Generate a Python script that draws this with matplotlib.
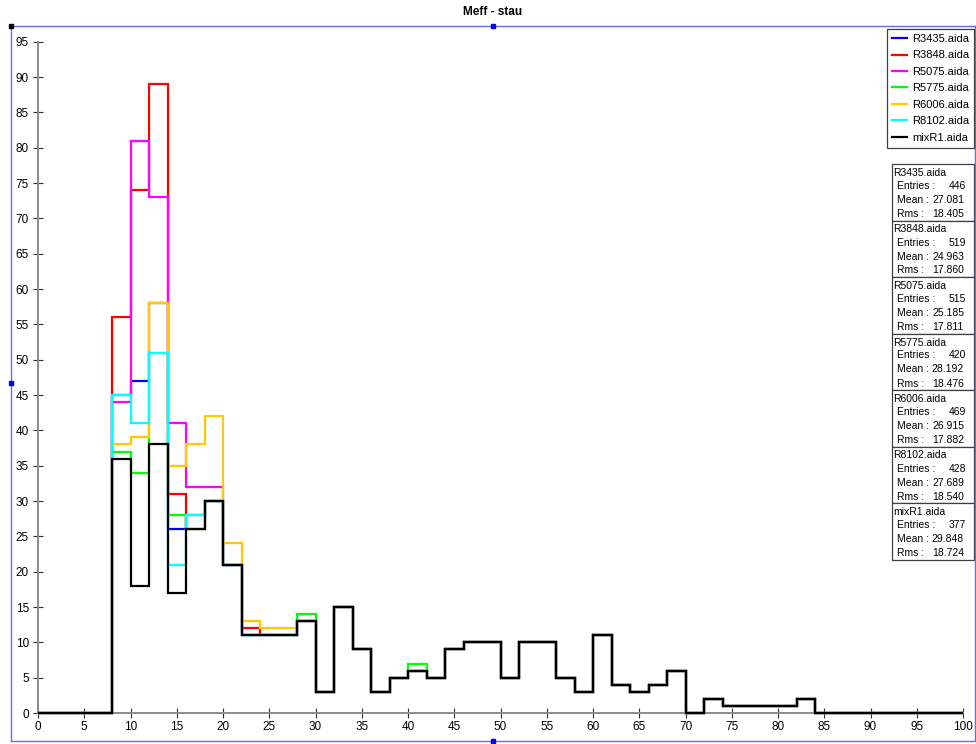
import numpy as np
import matplotlib
matplotlib.use('Agg')
import matplotlib.pyplot as plt
from matplotlib.lines import Line2D
from matplotlib.patches import Rectangle

plt.rcParams['font.family'] = ['Liberation Sans', 'DejaVu Sans']

W, H = 976, 744

# bin edges: 50 bins of width 2 over [0, 100]
edges = np.arange(0, 101, 2)

names = ['R3435.aida', 'R3848.aida', 'R5075.aida', 'R5775.aida',
         'R6006.aida', 'R8102.aida', 'mixR1.aida']
colors = ['#0000ff', '#ff0000', '#ff00ff', '#00ff00', '#ffc800', '#00ffff', '#000000']

# bins 0..30
head_R3435 = [0, 0, 0, 0, 45, 47, 58, 26, 28, 30, 21, 11, 11, 11, 13]
head_R3848 = [0, 0, 0, 0, 56, 74, 89, 31, 26, 30, 21, 12, 11, 11, 13]
head_R5075 = [0, 0, 0, 0, 44, 81, 73, 41, 32, 32, 21, 11, 11, 11, 13]
head_R5775 = [0, 0, 0, 0, 37, 34, 51, 28, 26, 30, 21, 11, 11, 11, 14]
head_R6006 = [0, 0, 0, 0, 38, 39, 58, 35, 38, 42, 24, 13, 12, 12, 13]
head_R8102 = [0, 0, 0, 0, 45, 41, 51, 21, 28, 30, 21, 11, 11, 11, 13]
head_mixR1 = [0, 0, 0, 0, 36, 18, 38, 17, 26, 30, 21, 11, 11, 11, 13]

# bins 30..100
tail = [3, 15, 9, 3, 5, 6, 5, 9, 10, 10, 5, 10, 10, 5, 3, 11, 4, 3, 4, 6,
        0, 2, 1, 1, 1, 1, 2, 0, 0, 0, 0, 0, 0, 0, 0]
tail_R5775 = [3, 15, 9, 3, 5, 7, 5, 9, 10, 10, 5, 10, 10, 5, 3, 11, 4, 3, 4, 6,
              0, 2, 1, 1, 1, 1, 2, 0, 0, 0, 0, 0, 0, 0, 0]

series = [head_R3435 + tail, head_R3848 + tail, head_R5075 + tail,
          head_R5775 + tail_R5775, head_R6006 + tail, head_R8102 + tail,
          head_mixR1 + tail]

entries = [446, 519, 515, 420, 469, 428, 377]
means = ['27.081', '24.963', '25.185', '28.192', '26.915', '27.689', '29.848']
rmss = ['18.405', '17.860', '17.811', '18.476', '17.882', '18.540', '18.724']

fig = plt.figure(figsize=(W / 100, H / 100), dpi=100)

def fx(px):
    return px / W

def fy(py):
    return 1 - py / H

ax = fig.add_axes([fx(38), fy(713), fx(963) - fx(38), fy(41.7) - fy(713)])
for vals, c in zip(series, colors):
    ax.stairs(vals, edges, color=c, linewidth=1.6, clip_on=False, zorder=3)

ax.set_xlim(0, 100)
ax.set_ylim(0, 95)
ax.set_xticks(np.arange(0, 101, 5))
ax.set_yticks(np.arange(0, 96, 5))
for s in ['top', 'right']:
    ax.spines[s].set_visible(False)
for s in ['left', 'bottom']:
    ax.spines[s].set_color('#8c8c8c')
    ax.spines[s].set_linewidth(1.4)
ax.tick_params(direction='inout', length=7, width=0.8, color='#303030',
               labelsize=8.5, pad=2)
ax.tick_params(axis='y', pad=3)
ax.patch.set_visible(False)

# title
fig.text(fx(493), fy(12), 'Meff - stau', ha='center', va='center',
         fontsize=8.5, fontweight='bold')

# selection frame around the plot region
fc = '#6a6aff'
frame = [([11, 975], [26, 26]), ([11, 11], [26, 741]),
         ([11, 975], [741, 741]), ([975, 975], [26, 741])]
for xs, ys in frame:
    fig.add_artist(Line2D([fx(x) for x in xs], [fy(y) for y in ys],
                          color=fc, linewidth=1.0))
for px, py, c in [(493, 26, '#0000ff'), (11, 383, '#0000ff'),
                  (493, 741, '#0000ff'), (11, 26, '#000000')]:
    fig.add_artist(Line2D([fx(px)], [fy(py)], marker='s', markersize=3.2,
                          color=c, linestyle='none'))

# legend
handles = [Line2D([], [], color=c, linewidth=1.6) for c in colors]
leg = fig.legend(handles, names, loc='upper right',
                 bbox_to_anchor=(fx(974), fy(29)), borderaxespad=0,
                 fancybox=False, edgecolor='#404040', framealpha=1,
                 fontsize=8, handlelength=1.4, handletextpad=0.4,
                 labelspacing=0.58, borderpad=0.45)
leg.get_frame().set_linewidth(0.9)

# statistics boxes
top0, bh = 164, 56.5
for i, name in enumerate(names):
    top = top0 + i * bh
    fig.add_artist(Rectangle((fx(892), fy(top + bh)), fx(974) - fx(892),
                             fy(top) - fy(top + bh), facecolor='white',
                             edgecolor='#404040', linewidth=0.9))
    fig.text(fx(893), fy(top + 9), name, fontsize=7.5, va='center')
    fig.text(fx(897), fy(top + 22), 'Entries :', fontsize=7.5, va='center')
    fig.text(fx(966), fy(top + 22), str(entries[i]), fontsize=7.5,
             va='center', ha='right')
    fig.text(fx(897), fy(top + 36), 'Mean :', fontsize=7.5, va='center')
    fig.text(fx(964), fy(top + 36), means[i], fontsize=7.5,
             va='center', ha='right')
    fig.text(fx(897), fy(top + 50), 'Rms :', fontsize=7.5, va='center')
    fig.text(fx(964), fy(top + 50), rmss[i], fontsize=7.5,
             va='center', ha='right')

fig.savefig('out.png', dpi=100)
